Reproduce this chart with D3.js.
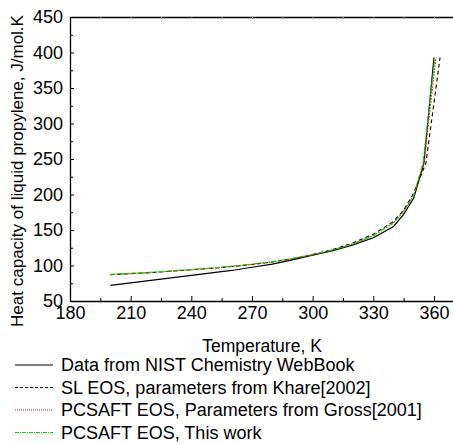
<!DOCTYPE html>
<html><head><meta charset="utf-8">
<script src="https://cdn.jsdelivr.net/npm/d3@7"></script>
<style>body{margin:0;background:#fff}svg{display:block}text{font-family:"Liberation Sans",Arial,sans-serif;fill:#000}</style>
</head><body>
<script>
const nistT  = [200,210,220,230,240,250,260,270,280,290,300,310,320,330,340,345,350,355,360];
const nistCp = [72,75.5,79,82.5,86,89.5,93,97.5,102,108,114.5,121,129,139,155,172,195,244,393];
const slT  = [200,210,220,230,240,250,260,270,280,290,300,310,320,330,340,345,350,356,363];
const slCp = [87,88.5,90,92,94,96,98.5,101.5,105,109.5,115.5,122.5,132,144,162,178,202,244,393];
const grossT  = [200,210,220,230,240,250,260,270,280,290,300,310,320,330,340,345,350,355,361];
const grossCp = [87,88.5,90,92,94,96,98.5,101.5,105,109.5,115,122,130.5,142,160,176,199,244,393];
const thisT  = [200,210,220,230,240,250,260,270,280,290,300,310,320,330,340,345,350,354.5,360.5];
const thisCp = [87.5,89,90.5,92.5,94.5,96.5,99,102,105.5,110,115.5,122,130.5,142,160,176,199,244,393];
const xTicks = [180,210,240,270,300,330,360];
const yTicks = [50,100,150,200,250,300,350,400,450];
const legendLabels = ["Data from NIST Chemistry WebBook","SL EOS, parameters from Khare[2002]","PCSAFT EOS, Parameters from Gross[2001]","PCSAFT EOS, This work"];

const W=453,H=444;
const svg=d3.select("body").append("svg").attr("width",W).attr("height",H);
const x=d3.scaleLinear().domain([180,370]).range([70,454.2]);
const y=d3.scaleLinear().domain([50,450]).range([301,17]);

const series=[
 {T:nistT,C:nistCp,color:"#000",dash:null,w:1.2},
 {T:slT,C:slCp,color:"#000",dash:"4,3",w:1.1},
 {T:grossT,C:grossCp,color:"#ff0000",dash:"1.5,1.5",w:1.1},
 {T:thisT,C:thisCp,color:"#00e000",dash:"5,1.5,1.5,1.5",w:1.1}
];
const line=d3.line().x(d=>x(d[0])).y(d=>y(d[1]));
series.forEach(s=>{
  svg.append("path").datum(s.T.map((t,i)=>[t,s.C[i]])).attr("d",line)
   .attr("fill","none").attr("stroke",s.color).attr("stroke-width",s.w)
   .attr("stroke-dasharray",s.dash);
});

// bottom axis
const bx=svg.append("g").attr("transform","translate(0,301)")
 .call(d3.axisBottom(x).tickValues(xTicks).tickSize(-5).tickSizeOuter(0).tickPadding(9).tickFormat(d3.format("d")));
bx.select(".domain").attr("stroke-width",1.3);
bx.selectAll("text").style("font-size","18px").attr("dy","0.71em").attr("y",5);
svg.append("g").attr("transform","translate(0,301)")
 .call(d3.axisBottom(x).tickValues(d3.range(195,370,30)).tickSize(-3).tickFormat(""))
 .select(".domain").remove();
// left axis
const ly=svg.append("g").attr("transform","translate(70,0)")
 .call(d3.axisLeft(y).tickValues(yTicks).tickSize(-4).tickSizeOuter(0).tickPadding(7));
ly.select(".domain").attr("stroke-width",1.3);
ly.selectAll("text").style("font-size","18px");
svg.append("g").attr("transform","translate(70,0)")
 .call(d3.axisLeft(y).tickValues(d3.range(75,450,50)).tickSize(-3).tickFormat(""))
 .select(".domain").remove();
// top axis
const tx=svg.append("g").attr("transform","translate(0,17)")
 .call(d3.axisTop(x).tickValues(d3.range(195,370,15)).tickSize(-2).tickSizeOuter(0).tickFormat(""));
tx.select(".domain").attr("stroke-width",1.3);
tx.selectAll(".tick line").attr("stroke","#999");

svg.append("text").attr("x",262).attr("y",352).attr("text-anchor","middle").style("font-size","17.5px").text("Temperature, K");
svg.append("text").attr("transform","translate(23,171) rotate(-90)").attr("text-anchor","middle").style("font-size","17px").text("Heat capacity of liquid propylene, J/mol.K");

const lg=svg.append("g");
legendLabels.forEach((t,i)=>{
  const cy=365+i*22.5, s=series[i];
  lg.append("line").attr("x1",15).attr("x2",53).attr("y1",cy).attr("y2",cy)
   .attr("stroke",s.color).attr("stroke-width",1).attr("stroke-dasharray",s.dash?(i==1?"3,2":(i==2?"1,1":"4,1,1,1")):null);
  lg.append("text").attr("x",61).attr("y",cy).attr("dy","0.35em").style("font-size","18px").text(t);
});
</script>
</body></html>
